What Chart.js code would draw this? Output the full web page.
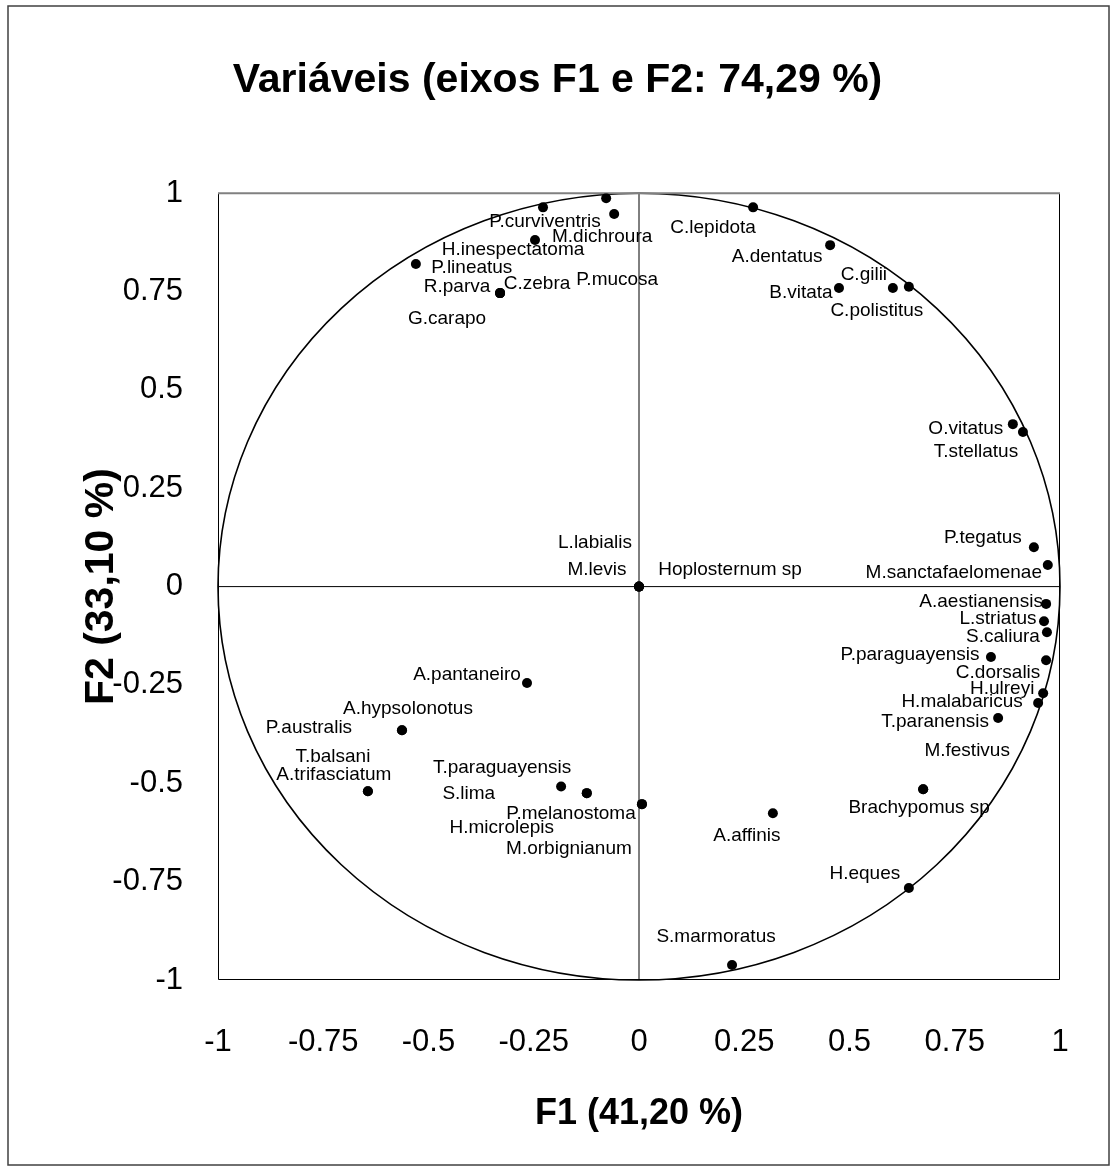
<!DOCTYPE html>
<html>
<head>
<meta charset="utf-8">
<script src="https://cdn.jsdelivr.net/npm/chart.js@4.4.1/dist/chart.umd.min.js"></script>
<style>
  html, body { margin: 0; padding: 0; background: #fff; }
  #wrap { width: 1115px; height: 1171px; }
</style>
</head>
<body>
<div id="wrap"><canvas id="chart" width="1115" height="1171"></canvas></div>
<script>
// species loadings on the first two factors
const species = [
    'P.curviventris', 'M.dichroura', 'P.mucosa', 'H.inespectatoma', 'P.lineatus',
    'R.parva', 'C.zebra', 'G.carapo', 'C.lepidota', 'A.dentatus',
    'C.gilii', 'B.vitata', 'C.polistitus', 'O.vitatus', 'T.stellatus',
    'P.tegatus', 'M.sanctafaelomenae', 'A.aestianensis', 'L.striatus', 'S.caliura',
    'P.paraguayensis', 'C.dorsalis', 'H.ulreyi', 'H.malabaricus', 'T.paranensis',
    'M.festivus', 'Brachypomus sp', 'A.affinis', 'H.eques', 'S.marmoratus',
    'A.pantaneiro', 'A.hypsolonotus', 'P.australis', 'T.balsani', 'A.trifasciatum',
    'T.paraguayensis', 'S.lima', 'H.microlepis', 'P.melanostoma', 'M.orbignianum',
    'L.labialis', 'M.levis', 'Hoplosternum sp'
];
const f1 = [
    -0.228, -0.059, -0.078, -0.247, -0.530,
    -0.330, -0.330, -0.330, 0.271, 0.454,
    0.603, 0.475, 0.641, 0.888, 0.912,
    0.938, 0.971, 0.967, 0.962, 0.969,
    0.836, 0.967, 0.960, 0.948, 0.853,
    0.675, 0.675, 0.318, 0.641, 0.221,
    -0.266, -0.563, -0.563, -0.644, -0.644,
    -0.185, -0.124, -0.124, 0.007, 0.007,
    0, 0, 0
];
const f2 = [
    0.964, 0.947, 0.987, 0.881, 0.820,
    0.746, 0.746, 0.746, 0.964, 0.868,
    0.759, 0.759, 0.762, 0.413, 0.393,
    0.100, 0.055, -0.044, -0.088, -0.116,
    -0.179, -0.187, -0.271, -0.296, -0.334,
    -0.515, -0.515, -0.576, -0.766, -0.962,
    -0.245, -0.365, -0.365, -0.520, -0.520,
    -0.508, -0.525, -0.525, -0.553, -0.553,
    0, 0, 0
];
// where each name sits, in pixels from its point (text centre)
const labelShift = [
    [2, 14], [-12, 23], [11, 81], [-22, 10], [56, 4],
    [-43, -6], [37, -9], [-53, 26], [-40, 20], [-53, 12],
    [-29, -13], [-38, 5], [-32, 24], [-47, 5], [-47, 20],
    [-51, -9], [-94, 8], [-65, -2], [-46, -2], [-44, 5],
    [-81, -2], [-48, 13], [-41, -4], [-76, -1], [-63, 4],
    [44, -38], [-4, 19], [-26, 23], [-44, -14], [-16, -28],
    [-60, -8], [6, -21], [-93, -2], [-35, -34], [-34, -16],
    [-59, -19], [-118, 1], [-85, 35], [-71, 10], [-73, 45],
    [-44, -44], [-42, -17], [91, -17]
];
const tickValues = [-1, -0.75, -0.5, -0.25, 0, 0.25, 0.5, 0.75, 1];

const FONT = "'Liberation Sans', Arial, sans-serif";

const frame = {
    id: 'frame',
    beforeDraw(chart) {
        const ctx = chart.ctx;
        ctx.save();
        ctx.fillStyle = '#ffffff';
        ctx.fillRect(0, 0, chart.width, chart.height);
        ctx.strokeStyle = '#404040';
        ctx.lineWidth = 1.5;
        ctx.strokeRect(8, 6, 1101, 1159);
        ctx.restore();
    }
};

// unit circle, zero axes and plot box
const circle = {
    id: 'circle',
    beforeDatasetsDraw(chart) {
        const { ctx, chartArea: a, scales: { x, y } } = chart;
        const cx = x.getPixelForValue(0);
        const cy = y.getPixelForValue(0);
        const rx = x.getPixelForValue(1) - cx;
        const ry = cy - y.getPixelForValue(1);
        ctx.save();
        ctx.strokeStyle = '#000';
        ctx.lineWidth = 1;
        ctx.beginPath();
        ctx.moveTo(a.left, cy);
        ctx.lineTo(a.right, cy);
        ctx.moveTo(cx, a.top);
        ctx.lineTo(cx, a.bottom);
        ctx.stroke();

        ctx.lineWidth = 1.6;
        ctx.beginPath();
        ctx.ellipse(cx, cy, rx, ry, 0, 0, 2 * Math.PI);
        ctx.stroke();

        ctx.lineWidth = 1;
        ctx.beginPath();
        ctx.moveTo(a.left + 0.5, a.top);
        ctx.lineTo(a.left + 0.5, a.bottom - 0.5);
        ctx.lineTo(a.right - 0.5, a.bottom - 0.5);
        ctx.lineTo(a.right - 0.5, a.top);
        ctx.stroke();
        ctx.strokeStyle = '#808080';
        ctx.lineWidth = 2;
        ctx.beginPath();
        ctx.moveTo(a.left, a.top);
        ctx.lineTo(a.right, a.top);
        ctx.stroke();
        ctx.restore();
    }
};

const names = {
    id: 'names',
    afterDatasetsDraw(chart) {
        const { ctx } = chart;
        const meta = chart.getDatasetMeta(0);
        ctx.save();
        ctx.font = '19px ' + FONT;
        ctx.fillStyle = '#000';
        ctx.textAlign = 'center';
        ctx.textBaseline = 'middle';
        meta.data.forEach((pt, i) => {
            const [dx, dy] = labelShift[i];
            ctx.fillText(species[i], pt.x + dx, pt.y + dy);
        });
        ctx.restore();
    }
};

const fixTicks = s => { s.ticks = tickValues.map(v => ({ value: v })); };

new Chart(document.getElementById('chart'), {
    type: 'scatter',
    data: {
        datasets: [{
            data: species.map((s, i) => ({ x: f1[i], y: f2[i] })),
            pointRadius: 5,
            pointHoverRadius: 5,
            pointBackgroundColor: '#000',
            pointBorderColor: '#000',
            pointBorderWidth: 0
        }]
    },
    options: {
        responsive: false,
        devicePixelRatio: 1,
        animation: false,
        events: [],
        layout: { padding: { left: 55, right: 55, top: 0, bottom: 0 } },
        plugins: {
            legend: { display: false },
            tooltip: { enabled: false },
            title: {
                display: true,
                text: 'Variáveis (eixos F1 e F2: 74,29 %)',
                color: '#000',
                font: { family: FONT, size: 41, weight: 'bold' },
                padding: { top: 56, bottom: 88 }
            }
        },
        scales: {
            x: {
                type: 'linear',
                min: -1,
                max: 1,
                afterBuildTicks: fixTicks,
                afterFit: s => { s.height = 191; },
                grid: { display: false, drawTicks: false },
                border: { display: false },
                ticks: {
                    color: '#000',
                    font: { family: FONT, size: 31 },
                    padding: 44,
                    maxRotation: 0,
                    autoSkip: false,
                    callback: v => String(v)
                },
                title: {
                    display: true,
                    text: 'F1 (41,20 %)',
                    color: '#000',
                    font: { family: FONT, size: 36, weight: 'bold' },
                    padding: 35
                }
            },
            y: {
                type: 'linear',
                min: -1,
                max: 1,
                afterBuildTicks: fixTicks,
                afterFit: s => { s.width = 163; },
                grid: { display: false, drawTicks: false },
                border: { display: false },
                ticks: {
                    color: '#000',
                    font: { family: FONT, size: 31 },
                    padding: 35,
                    autoSkip: false,
                    callback: v => String(v)
                },
                title: {
                    display: true,
                    text: 'F2 (33,10 %)',
                    color: '#000',
                    font: { family: FONT, size: 41, weight: 'bold' },
                    padding: 22
                }
            }
        }
    },
    plugins: [frame, circle, names]
});
</script>
</body>
</html>
